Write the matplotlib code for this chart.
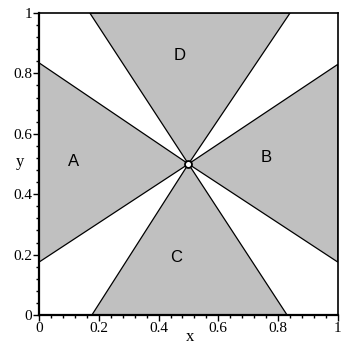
import numpy as np
import matplotlib.pyplot as plt

plt.rcParams['font.family'] = ['Liberation Serif', 'DejaVu Serif']

# centre point where all boundary lines meet
center = (0.5, 0.5)

# where the boundary lines of each shaded region hit the square's edge
# A: left edge (y values), B: right edge (y values)
A_edge_y = [0.175, 0.835]
B_edge_y = [0.175, 0.83]
# C: bottom edge (x values), D: top edge (x values)
C_edge_x = [0.177, 0.83]
D_edge_x = [0.17, 0.84]

region_names = ['A', 'B', 'C', 'D']
label_x = [0.114, 0.76, 0.46, 0.47]
label_y = [0.507, 0.52, 0.19, 0.86]

gray = '#c0c0c0'

fig = plt.figure(figsize=(3.42, 3.5), dpi=100)
ax = fig.add_axes([0.114, 0.1, 0.874, 0.863])

cx, cy = center
regions = [
    ([0, cx, 0], [A_edge_y[0], cy, A_edge_y[1]]),
    ([1, cx, 1], [B_edge_y[0], cy, B_edge_y[1]]),
    ([C_edge_x[0], cx, C_edge_x[1]], [0, cy, 0]),
    ([D_edge_x[0], cx, D_edge_x[1]], [1, cy, 1]),
]
for xs, ys in regions:
    ax.fill(xs, ys, facecolor=gray, edgecolor='black', linewidth=0.9)

ax.plot([cx], [cy], marker='o', markersize=5, markerfacecolor='white',
        markeredgecolor='black', markeredgewidth=1.3)

for name, lx, ly in zip(region_names, label_x, label_y):
    ax.text(lx, ly, name, fontsize=12, ha='center', va='center',
            family=['Liberation Sans', 'DejaVu Sans'])

ax.set_xlim(0, 1)
ax.set_ylim(0, 1)

major = [0, 0.2, 0.4, 0.6, 0.8, 1]
labels = ['0', '0.2', '0.4', '0.6', '0.8', '1']
ax.set_xticks(major)
ax.set_xticklabels(labels)
ax.set_yticks(major)
ax.set_yticklabels(labels)
ax.set_xticks(np.arange(0, 1.0001, 0.04), minor=True)
ax.set_yticks(np.arange(0, 1.0001, 0.04), minor=True)
ax.tick_params(which='major', length=4, width=1, labelsize=11, pad=1)
ax.tick_params(which='minor', length=2.5, width=1)

ax.set_xlabel('x', fontsize=12)
ax.set_ylabel('y', fontsize=12, rotation=0)
ax.xaxis.set_label_coords(0.505, -0.073)
ax.yaxis.set_label_coords(-0.064, 0.507)
ax.xaxis.label.set_verticalalignment('center')
ax.yaxis.label.set_verticalalignment('center')

for side in ['left', 'bottom']:
    ax.spines[side].set_linewidth(1.6)
for side in ['top', 'right']:
    ax.spines[side].set_linewidth(1.2)

fig.savefig('out.png', dpi=100)
